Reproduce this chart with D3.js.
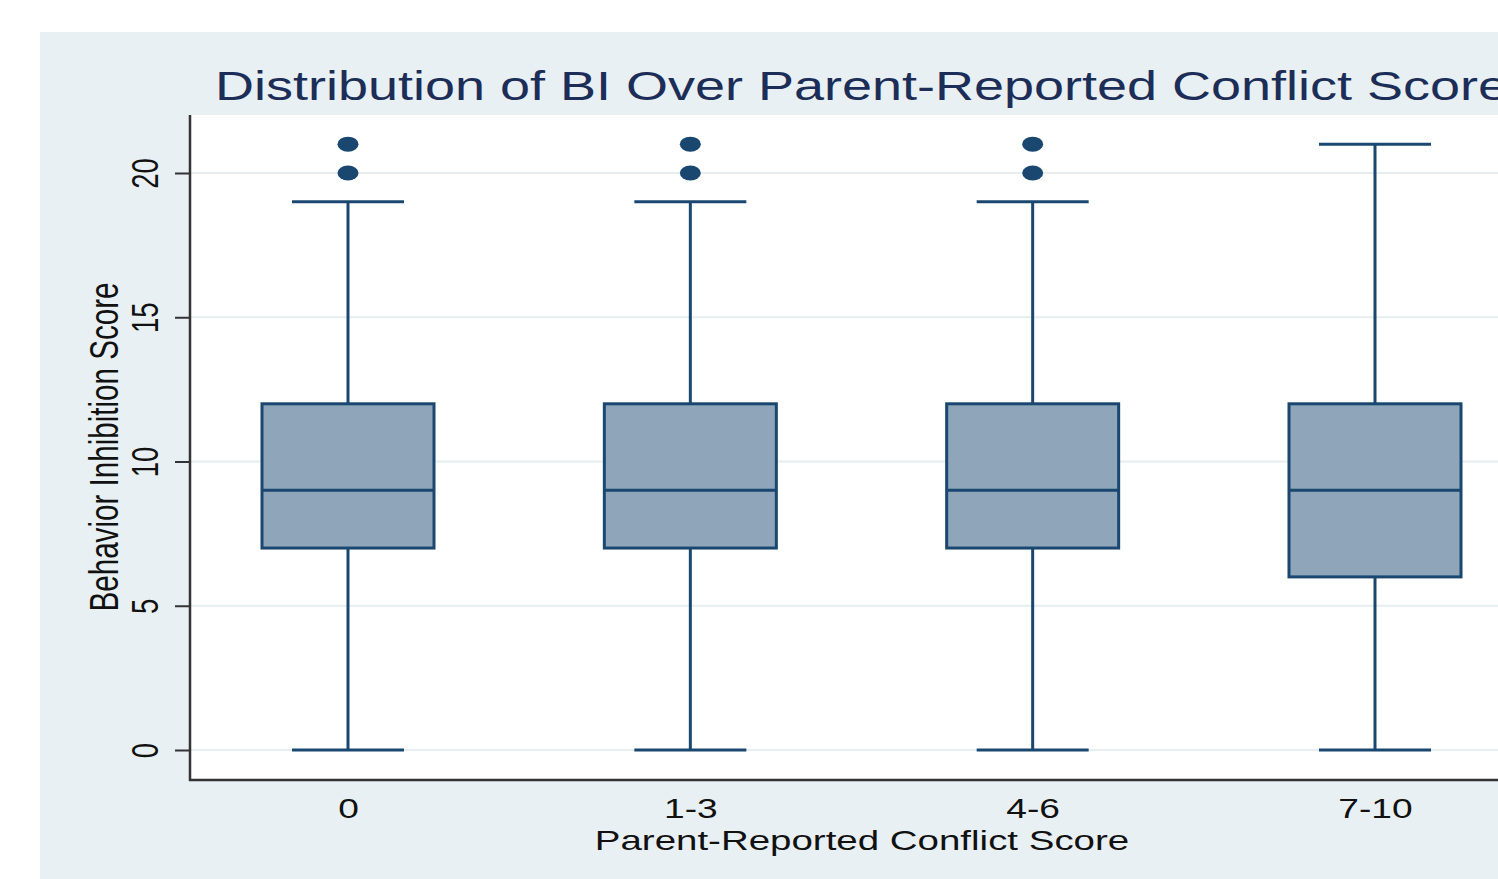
<!DOCTYPE html>
<html><head><meta charset="utf-8">
<script src="https://cdn.jsdelivr.net/npm/d3@7"></script>
<style>html,body{margin:0;padding:0;background:#fff;overflow:hidden}svg{display:block}text{font-family:"Liberation Sans",Arial,sans-serif}</style>
</head><body>
<script>
const categories = ["0","1-3","4-6","7-10"];
const whiskerLow = [0,0,0,0];
const q1 = [7,7,7,6];
const median = [9,9,9,9];
const q3 = [12,12,12,12];
const whiskerHigh = [19,19,19,21];
const outliers = [[20,21],[20,21],[20,21],[]];
const yTicks = [0,5,10,15,20];
const titleText = "Distribution of BI Over Parent-Reported Conflict Score";
const xTitle = "Parent-Reported Conflict Score";
const yTitle = "Behavior Inhibition Score";

const W = 1498, H = 879, SX = 1.35;
const navy = "#1a476f";
const svg = d3.select("body").append("svg").attr("width", W).attr("height", H);

// outer panel
svg.append("rect").attr("x",40).attr("y",32).attr("width",W-40).attr("height",H-32).attr("fill","#e9f0f3");
// plot region
const pl = 190, pt = 115, pb = 780, pr = 1560;
svg.append("rect").attr("x",pl).attr("y",pt).attr("width",pr-pl).attr("height",pb-pt).attr("fill","#ffffff");

const x = d3.scalePoint().domain(categories).range([348,1375]);
const y = d3.scaleLinear().domain([0,20]).range([750,173]);

// grid
svg.append("g").selectAll("line").data(yTicks).join("line")
  .attr("x1",pl).attr("x2",pr).attr("y1",d=>y(d)).attr("y2",d=>y(d))
  .attr("stroke","#e6eef1").attr("stroke-width",2);

// y axis
const yAx = svg.append("g").attr("transform",`translate(${pl},0)`)
  .call(d3.axisLeft(y).tickValues(yTicks).tickSize(15).tickPadding(0).tickFormat(d=>""));
yAx.select(".domain").remove();
yAx.selectAll(".tick line").attr("stroke","#333").attr("stroke-width",2);
yAx.selectAll(".tick").append("text")
  .attr("transform",`translate(-32,0) scale(${SX},1) rotate(-90)`)
  .attr("text-anchor","middle").attr("fill","#111").attr("font-size",27.5)
  .text(d=>d);
svg.append("line").attr("x1",pl).attr("x2",pl).attr("y1",pt).attr("y2",pb+1).attr("stroke","#333").attr("stroke-width",2.5);

// x axis
const xAx = svg.append("g").attr("transform",`translate(0,${pb})`)
  .call(d3.axisBottom(x).tickSize(0).tickFormat(d=>""));
xAx.select(".domain").remove();
xAx.selectAll(".tick").append("text")
  .attr("transform",`translate(0,38) scale(${SX},1)`)
  .attr("text-anchor","middle").attr("fill","#111").attr("font-size",27.5)
  .text(d=>d);
svg.append("line").attr("x1",pl-1).attr("x2",pr).attr("y1",pb).attr("y2",pb).attr("stroke","#333").attr("stroke-width",2.5);

// boxes
const bw = 86, cw = 56;
const g = svg.append("g").selectAll("g").data(categories).join("g");
g.append("line").attr("x1",d=>x(d)).attr("x2",d=>x(d))
  .attr("y1",(d,i)=>y(whiskerLow[i])).attr("y2",(d,i)=>y(q1[i]))
  .attr("stroke",navy).attr("stroke-width",3);
g.append("line").attr("x1",d=>x(d)).attr("x2",d=>x(d))
  .attr("y1",(d,i)=>y(q3[i])).attr("y2",(d,i)=>y(whiskerHigh[i]))
  .attr("stroke",navy).attr("stroke-width",3);
g.append("line").attr("x1",d=>x(d)-cw).attr("x2",d=>x(d)+cw)
  .attr("y1",(d,i)=>y(whiskerLow[i])).attr("y2",(d,i)=>y(whiskerLow[i]))
  .attr("stroke",navy).attr("stroke-width",3);
g.append("line").attr("x1",d=>x(d)-cw).attr("x2",d=>x(d)+cw)
  .attr("y1",(d,i)=>y(whiskerHigh[i])).attr("y2",(d,i)=>y(whiskerHigh[i]))
  .attr("stroke",navy).attr("stroke-width",3);
g.append("rect").attr("x",d=>x(d)-bw).attr("width",bw*2)
  .attr("y",(d,i)=>y(q3[i])).attr("height",(d,i)=>y(q1[i])-y(q3[i]))
  .attr("fill","#8ea5ba").attr("stroke",navy).attr("stroke-width",3);
g.append("line").attr("x1",d=>x(d)-bw).attr("x2",d=>x(d)+bw)
  .attr("y1",(d,i)=>y(median[i])).attr("y2",(d,i)=>y(median[i]))
  .attr("stroke",navy).attr("stroke-width",3);
g.each(function(d,i){
  d3.select(this).selectAll("ellipse").data(outliers[i]).join("ellipse")
    .attr("cx",x(d)).attr("cy",v=>y(v)).attr("rx",10.5).attr("ry",7.5).attr("fill",navy);
});

// titles
svg.append("text").attr("transform",`translate(215,100) scale(${SX},1)`)
  .attr("font-size",40).attr("fill","#1c2e57").text(titleText);
svg.append("text").attr("transform",`translate(862,850) scale(${SX},1)`)
  .attr("text-anchor","middle").attr("font-size",28.5).attr("fill","#111").text(xTitle);
svg.append("text").attr("transform",`translate(118,447) scale(${SX},1) rotate(-90)`)
  .attr("text-anchor","middle").attr("font-size",29.6).attr("fill","#111").text(yTitle);
</script>
</body></html>
